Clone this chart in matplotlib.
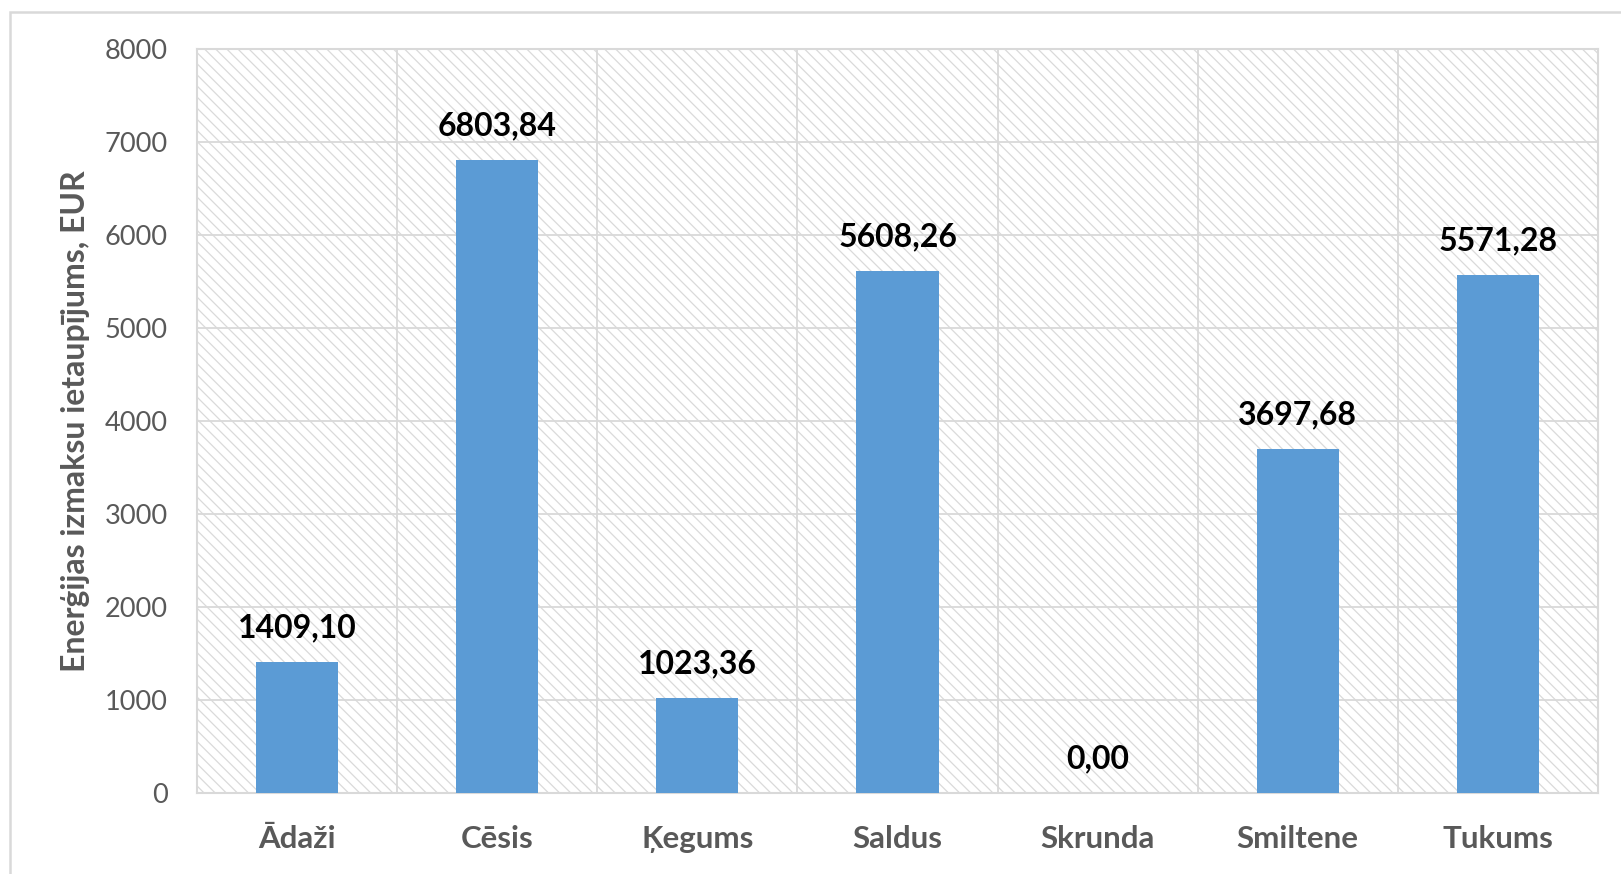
import numpy as np
import matplotlib.pyplot as plt
from matplotlib.patches import Rectangle

categories = ["Ādaži", "Cēsis", "Ķegums", "Saldus", "Skrunda", "Smiltene", "Tukums"]
values = [1409.10, 6803.84, 1023.36, 5608.26, 0.00, 3697.68, 5571.28]
y_ticks = [0, 1000, 2000, 3000, 4000, 5000, 6000, 7000, 8000]
y_label = "Enerģijas izmaksu ietaupījums, EUR"

plt.rcParams['font.family'] = ['Lato', 'DejaVu Sans']
plt.rcParams['hatch.linewidth'] = 0.9

W, H = 1621, 874
fig = plt.figure(figsize=(W / 100, H / 100), dpi=100)
ax = fig.add_axes([197 / W, 1 - 793 / H, (1598 - 197) / W, (793 - 49) / H])

grid_c = '#d9d9d9'
text_c = '#595959'

# hatched plot background
bg = Rectangle((0, 0), 1, 1, transform=ax.transAxes, facecolor='white',
               edgecolor='#dadada', hatch='\\\\\\', lw=0, zorder=0)
ax.add_patch(bg)

x = np.arange(len(categories))
bars = ax.bar(x, values, width=0.41, color='#5B9BD5', zorder=3)

for xi, v in zip(x, values):
    ax.annotate(f"{v:.2f}".replace('.', ','), (xi, v), xytext=(0, 18),
                textcoords='offset points', ha='center', va='baseline',
                fontsize=23, fontweight='bold', color='black', zorder=4)

ax.set_xlim(-0.5, len(categories) - 0.5)
ax.set_ylim(0, 8000)
ax.set_yticks(y_ticks)
ax.set_yticklabels([str(t) for t in y_ticks], fontsize=19.5, color=text_c)
ax.set_xticks(x)
ax.set_xticklabels(categories, fontsize=22.5, fontweight='bold', color=text_c)
ax.set_xticks(x[:-1] + 0.5, minor=True)
ax.tick_params(axis='both', which='both', length=0)
ax.tick_params(axis='y', pad=21)
ax.tick_params(axis='x', pad=23)

ax.grid(axis='y', which='major', color=grid_c, lw=1.3, zorder=1)
ax.grid(axis='x', which='minor', color=grid_c, lw=1.3, zorder=1)
ax.grid(axis='x', which='major', visible=False)
ax.set_axisbelow(True)
for s in ax.spines.values():
    s.set_color(grid_c)
    s.set_linewidth(1.5)

fig.text(76 / W, 1 - 421 / H, y_label, rotation=90, ha='center', va='center',
         fontsize=23, fontweight='bold', color=text_c)

# outer chart border
fig.patches.append(Rectangle((9.5 / W, -0.1), 2, (874 - 11.5) / H + 0.1,
                             transform=fig.transFigure, fill=False,
                             edgecolor=grid_c, lw=1.8))

fig.savefig("out.png", dpi=100)
